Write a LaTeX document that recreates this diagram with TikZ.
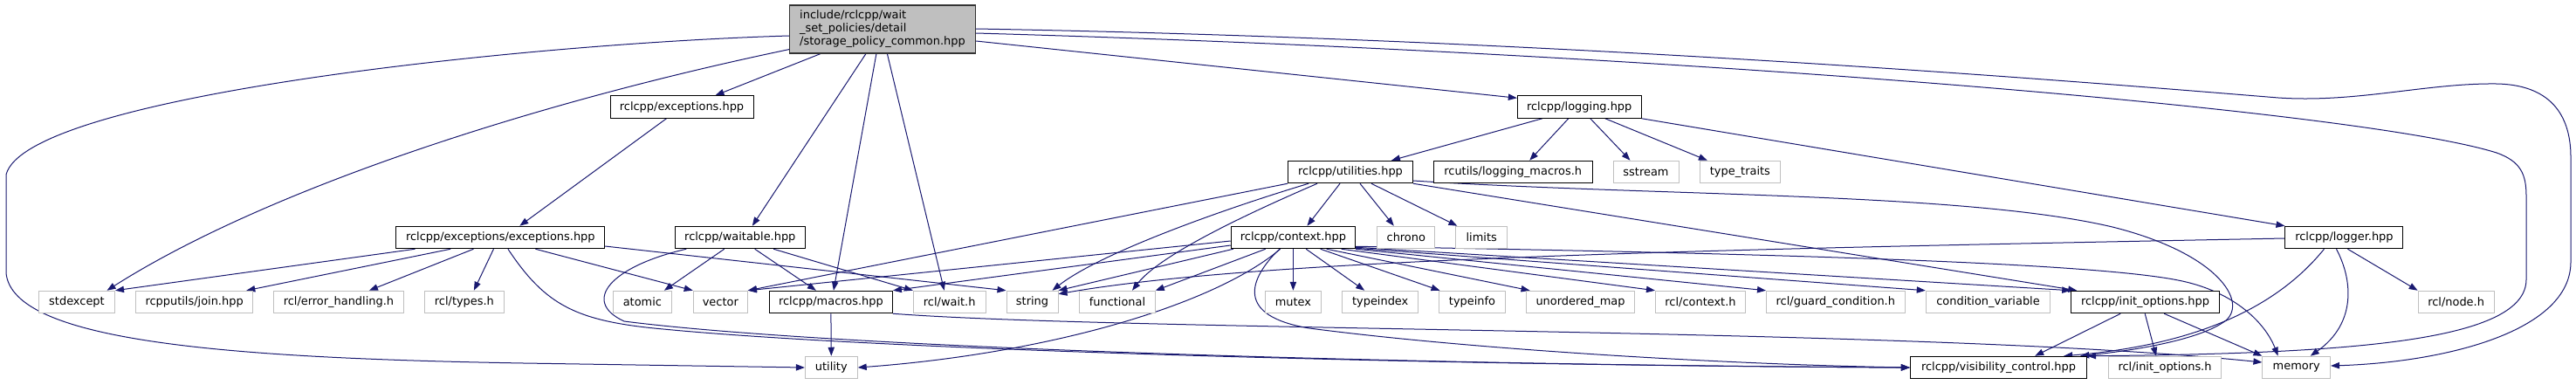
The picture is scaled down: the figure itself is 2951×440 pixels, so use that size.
\documentclass[tikz,border=0pt]{standalone}
\usepackage{fontspec}
\setmainfont{DejaVu Sans}
\usetikzlibrary{calc,arrows.meta,backgrounds}
\definecolor{edgeblue}{HTML}{191970}
\definecolor{extgray}{HTML}{BFBFBF}
\definecolor{rootfill}{HTML}{BFBFBF}
\begin{document}
\begin{tikzpicture}[x=0.75pt,y=-0.75pt,
  font=\fontsize{9.7pt}{11.25pt}\selectfont,
  nodebox/.style={rectangle, inner sep=0pt, minimum height=25.5*0.75pt, fill=white, line width=0.75pt},
  doc/.style={nodebox, draw=black},
  ext/.style={nodebox, draw=extgray},
  wd/.style={minimum width=#1*0.75pt},
  edge/.style={draw=edgeblue, line width=0.75pt, -{Triangle[length=7.5pt,width=5.5pt]}}]
\useasboundingbox (0,0) rectangle (2951,440);
% ---------- nodes ----------
\node[draw=black!80, fill=rootfill, line width=0.9pt, inner sep=0pt, align=left, wd=213, minimum height=55*0.75pt] (root) at (1011,33.5) {include/rclcpp/wait\\\_set\_policies/detail\\/storage\_policy\_common.hpp};
% row 1
\node[doc, wd=164] (exc) at (781,122.5) {rclcpp/exceptions.hpp};
\node[doc, wd=141.8] (logging) at (1809.2,122.5) {rclcpp/logging.hpp};
% row 2
\node[doc, wd=143] (utilities) at (1547,197) {rclcpp/utilities.hpp};
\node[doc, wd=181.7] (logmacros) at (1733.2,197) {rcutils/logging\_macros.h};
\node[ext, wd=75] (sstream) at (1885.5,197) {sstream};
\node[ext, wd=92] (typetraits) at (1993.4,197) {type\_traits};
% row 3
\node[doc, wd=238.7] (exex) at (573.3,272) {rclcpp/exceptions/exceptions.hpp};
\node[doc, wd=149.2] (waitable) at (847.8,272) {rclcpp/waitable.hpp};
\node[doc, wd=142.4] (context) at (1481.4,272) {rclcpp/context.hpp};
\node[ext, wd=66.3] (chrono) at (1610.8,272) {chrono};
\node[ext, wd=58.6] (limits) at (1697.2,272) {limits};
\node[doc, wd=134.9] (logger) at (2685.4,272) {rclcpp/logger.hpp};
% row 4
\node[ext, wd=87] (stdexcept) at (88,346) {stdexcept};
\node[ext, wd=134.4] (join) at (222.6,346) {rcpputils/join.hpp};
\node[ext, wd=148.2] (errh) at (387.9,346) {rcl/error\_handling.h};
\node[ext, wd=90.9] (types) at (531.9,346) {rcl/types.h};
\node[ext, wd=67] (atomic) at (735.9,346) {atomic};
\node[ext, wd=62.2] (vector) at (825.3,346) {vector};
\node[doc, wd=141.1] (macros) at (951.9,346) {rclcpp/macros.hpp};
\node[ext, wd=82.7] (wait) at (1087.7,346) {rcl/wait.h};
\node[ext, wd=59] (string) at (1182.5,346) {string};
\node[ext, wd=86.5] (functional) at (1280,346) {functional};
\node[ext, wd=63.8] (mutex) at (1481.4,346) {mutex};
\node[ext, wd=86.7] (typeindex) at (1581.2,346) {typeindex};
\node[ext, wd=76] (typeinfo) at (1686.5,346) {typeinfo};
\node[ext, wd=123.9] (umap) at (1810.5,346) {unordered\_map};
\node[ext, wd=103.1] (rclctx) at (1948,346) {rcl/context.h};
\node[ext, wd=158.6] (guard) at (2102.8,346) {rcl/guard\_condition.h};
\node[ext, wd=142.5] (condvar) at (2277.5,346) {condition\_variable};
\node[doc, wd=169.6] (initopt) at (2457.5,346) {rclcpp/init\_options.hpp};
\node[ext, wd=86.9] (node) at (2813.6,346) {rcl/node.h};
% row 5
\node[ext, wd=59.8] (utility) at (952.3,421) {utility};
\node[doc, wd=202.3] (vis) at (2289.5,421) {rclcpp/visibility\_control.hpp};
\node[ext, wd=129.8] (rclinit) at (2480,421) {rcl/init\_options.h};
\node[ext, wd=77.6] (memory) at (2630.7,421) {memory};
% ---------- edges ----------
\begin{pgfonlayer}{background}
\fill[white] (0,0) rectangle (2951,440);
% root
\draw[edge] ($(root.south west)+(0,-5)$) .. controls (600,120) and (300,220) .. ($(stdexcept.north east)+(-9.5,0)$);
\draw[edge] ($(root.west)+(0,7.5)$) .. controls (600,50) and (30,110) .. (7,200) -- (7,313) .. controls (15,390) and (250,410) .. (600,416) -- (utility.west);
\draw[edge] ($(root.south west)+(36,0)$) -- ($(exc.north)+(38.5,0)$);
\draw[edge] ($(root.south west)+(88,0)$) -- ($(waitable.north)+(14,0)$);
\draw[edge] ($(root.south west)+(100,0)$) -- ($(macros.north)+(3,0)$);
\draw[edge] ($(root.south west)+(112.5,0)$) -- ($(wait.north)+(-6,0)$);
\draw[edge] ($(root.east)+(0,13.5)$) -- ($(logging.north west)+(0,3)$);
\draw[edge] ($(root.east)+(0,-0.5)$) .. controls (1800,45) and (2400,95) .. (2610,112) .. controls (2700,118) and (2780,95) .. (2860,96) .. controls (2920,97) and (2945,130) .. (2945,180) -- (2945,300) .. controls (2945,380) and (2800,415) .. ($(memory.east)+(0,-2)$);
\draw[edge] ($(root.east)+(0,4.5)$) .. controls (1900,60) and (2700,125) .. (2860,175) .. controls (2888,185) and (2894,200) .. (2894,225) -- (2894,320) .. controls (2894,390) and (2700,405) .. (vis.north east);
% exceptions.hpp
\draw[edge] ($(exc.south west)+(65,0)$) -- ($(exex.north)+(22,0)$);
% exceptions/exceptions.hpp
\draw[edge] ($(exex.south west)+(22,0)$) -- (stdexcept.north east);
\draw[edge] ($(exex.south west)+(62.7,0)$) -- ($(join.north east)+(-8,0)$);
\draw[edge] ($(exex.south west)+(89,0)$) -- ($(errh.north)+(35,0)$);
\draw[edge] ($(exex.south west)+(112,0)$) -- ($(types.north)+(11,0)$);
\draw[edge] ($(exex.south west)+(160,0)$) -- (vector.north west);
\draw[edge] ($(exex.east)+(0,10)$) -- (string.north west);
\draw[edge] ($(exex.south west)+(128.5,0)$) .. controls (625,350) and (660,368) .. (760,377) .. controls (1000,400) and (1600,418) .. (vis.west);
% waitable
\draw[edge] ($(waitable.south west)+(13.5,0)$) .. controls (700,305) and (665,345) .. (715,368) .. controls (950,398) and (1600,418) .. (vis.west);
\draw[edge] ($(waitable.south west)+(57,0)$) -- ($(atomic.north east)+(-9,0)$);
\draw[edge] ($(waitable.south west)+(92,0)$) -- ($(macros.north)+(-17,0)$);
\draw[edge] ($(waitable.south west)+(113.5,0)$) -- (wait.north west);
% macros
\draw[edge] (macros.south) -- (utility.north);
\draw[edge] (macros.south east) .. controls (1300,380) and (2200,375) .. ($(memory.west)+(0,-6)$);
% logging
\draw[edge] ($(logging.south west)+(29,0)$) -- ($(utilities.north)+(47,0)$);
\draw[edge] ($(logging.south west)+(59,0)$) -- ($(logmacros.north)+(19,0)$);
\draw[edge] ($(logging.south west)+(84,0)$) -- ($(sstream.north)+(-18,0)$);
\draw[edge] ($(logging.south west)+(101,0)$) -- ($(typetraits.north west)+(9,0)$);
\draw[edge] (logging.south east) -- (logger.north west);
% utilities
\draw[edge] (utilities.south west) -- (vector.north east);
\draw[edge] ($(utilities.south west)+(24,0)$) .. controls (1400,240) and (1260,290) .. ($(string.north east)+(-7,0)$);
\draw[edge] ($(utilities.south west)+(34,0)$) .. controls (1440,240) and (1330,290) .. ($(functional.north)+(17,0)$);
\draw[edge] ($(utilities.south west)+(60,0)$) -- ($(context.north)+(16,0)$);
\draw[edge] ($(utilities.south west)+(83,0)$) -- ($(chrono.north)+(-14,0)$);
\draw[edge] ($(utilities.south west)+(96,0)$) -- ($(limits.north west)+(2,0)$);
\draw[edge] (utilities.south east) -- ($(initopt.north west)+(7,0)$);
\draw[edge] ($(utilities.east)+(0,10)$) .. controls (1900,225) and (2250,220) .. (2420,260) .. controls (2540,290) and (2575,345) .. (2550,367) .. controls (2520,390) and (2440,402) .. ($(vis.north east)+(-8,0)$);
% context
\draw[edge] ($(context.west)+(0,4)$) -- (vector.north east);
\draw[edge] ($(context.west)+(0,9)$) -- (macros.north east);
\draw[edge] ($(context.south west)+(3,0)$) -- (string.north east);
\draw[edge] ($(context.south west)+(40,0)$) -- (functional.north east);
\draw[edge] ($(context.south west)+(57,0)$) .. controls (1390,350) and (1200,405) .. (utility.east);
\draw[edge] ($(context.south west)+(56,0)$) .. controls (1430,320) and (1415,362) .. (1500,376) .. controls (1700,402) and (2000,418) .. (vis.west);
\draw[edge] (context.south) -- (mutex.north);
\draw[edge] ($(context.south west)+(86.5,0)$) -- ($(typeindex.north)+(-18,0)$);
\draw[edge] ($(context.south west)+(103,0)$) -- ($(typeinfo.north west)+(1.5,0)$);
\draw[edge] ($(context.south west)+(110,0)$) -- ($(umap.north west)+(4.5,0)$);
\draw[edge] ($(context.south west)+(127,0)$) -- (rclctx.north west);
\draw[edge] (context.south east) -- (guard.north west);
\draw[edge] ($(context.south east)+(0,-1)$) -- (condvar.north west);
\draw[edge] ($(context.south east)+(0,-2)$) -- (initopt.north west);
\draw[edge] ($(context.south east)+(0,-3)$) .. controls (2000,290) and (2400,300) .. (2500,322) .. controls (2560,335) and (2595,370) .. ($(memory.north)+(-21,0)$);
% logger
\draw[edge] ($(logger.west)+(0,1)$) .. controls (2000,285) and (1450,295) .. ($(string.north east)+(0,4)$);
\draw[edge] ($(logger.south west)+(45,0)$) .. controls (2610,350) and (2520,395) .. ($(vis.north east)+(-27,0)$);
\draw[edge] ($(logger.south west)+(59,0)$) .. controls (2695,320) and (2700,370) .. ($(memory.north)+(16,0)$);
\draw[edge] ($(logger.south west)+(72,0)$) -- (node.north west);
% init_options
\draw[edge] ($(initopt.south west)+(57,0)$) -- ($(vis.north east)+(-60,0)$);
\draw[edge] ($(initopt.south west)+(85,0)$) -- ($(rclinit.north)+(-10,0)$);
\draw[edge] ($(initopt.south west)+(107,0)$) -- (memory.north west);
\end{pgfonlayer}
\end{tikzpicture}
\end{document}
